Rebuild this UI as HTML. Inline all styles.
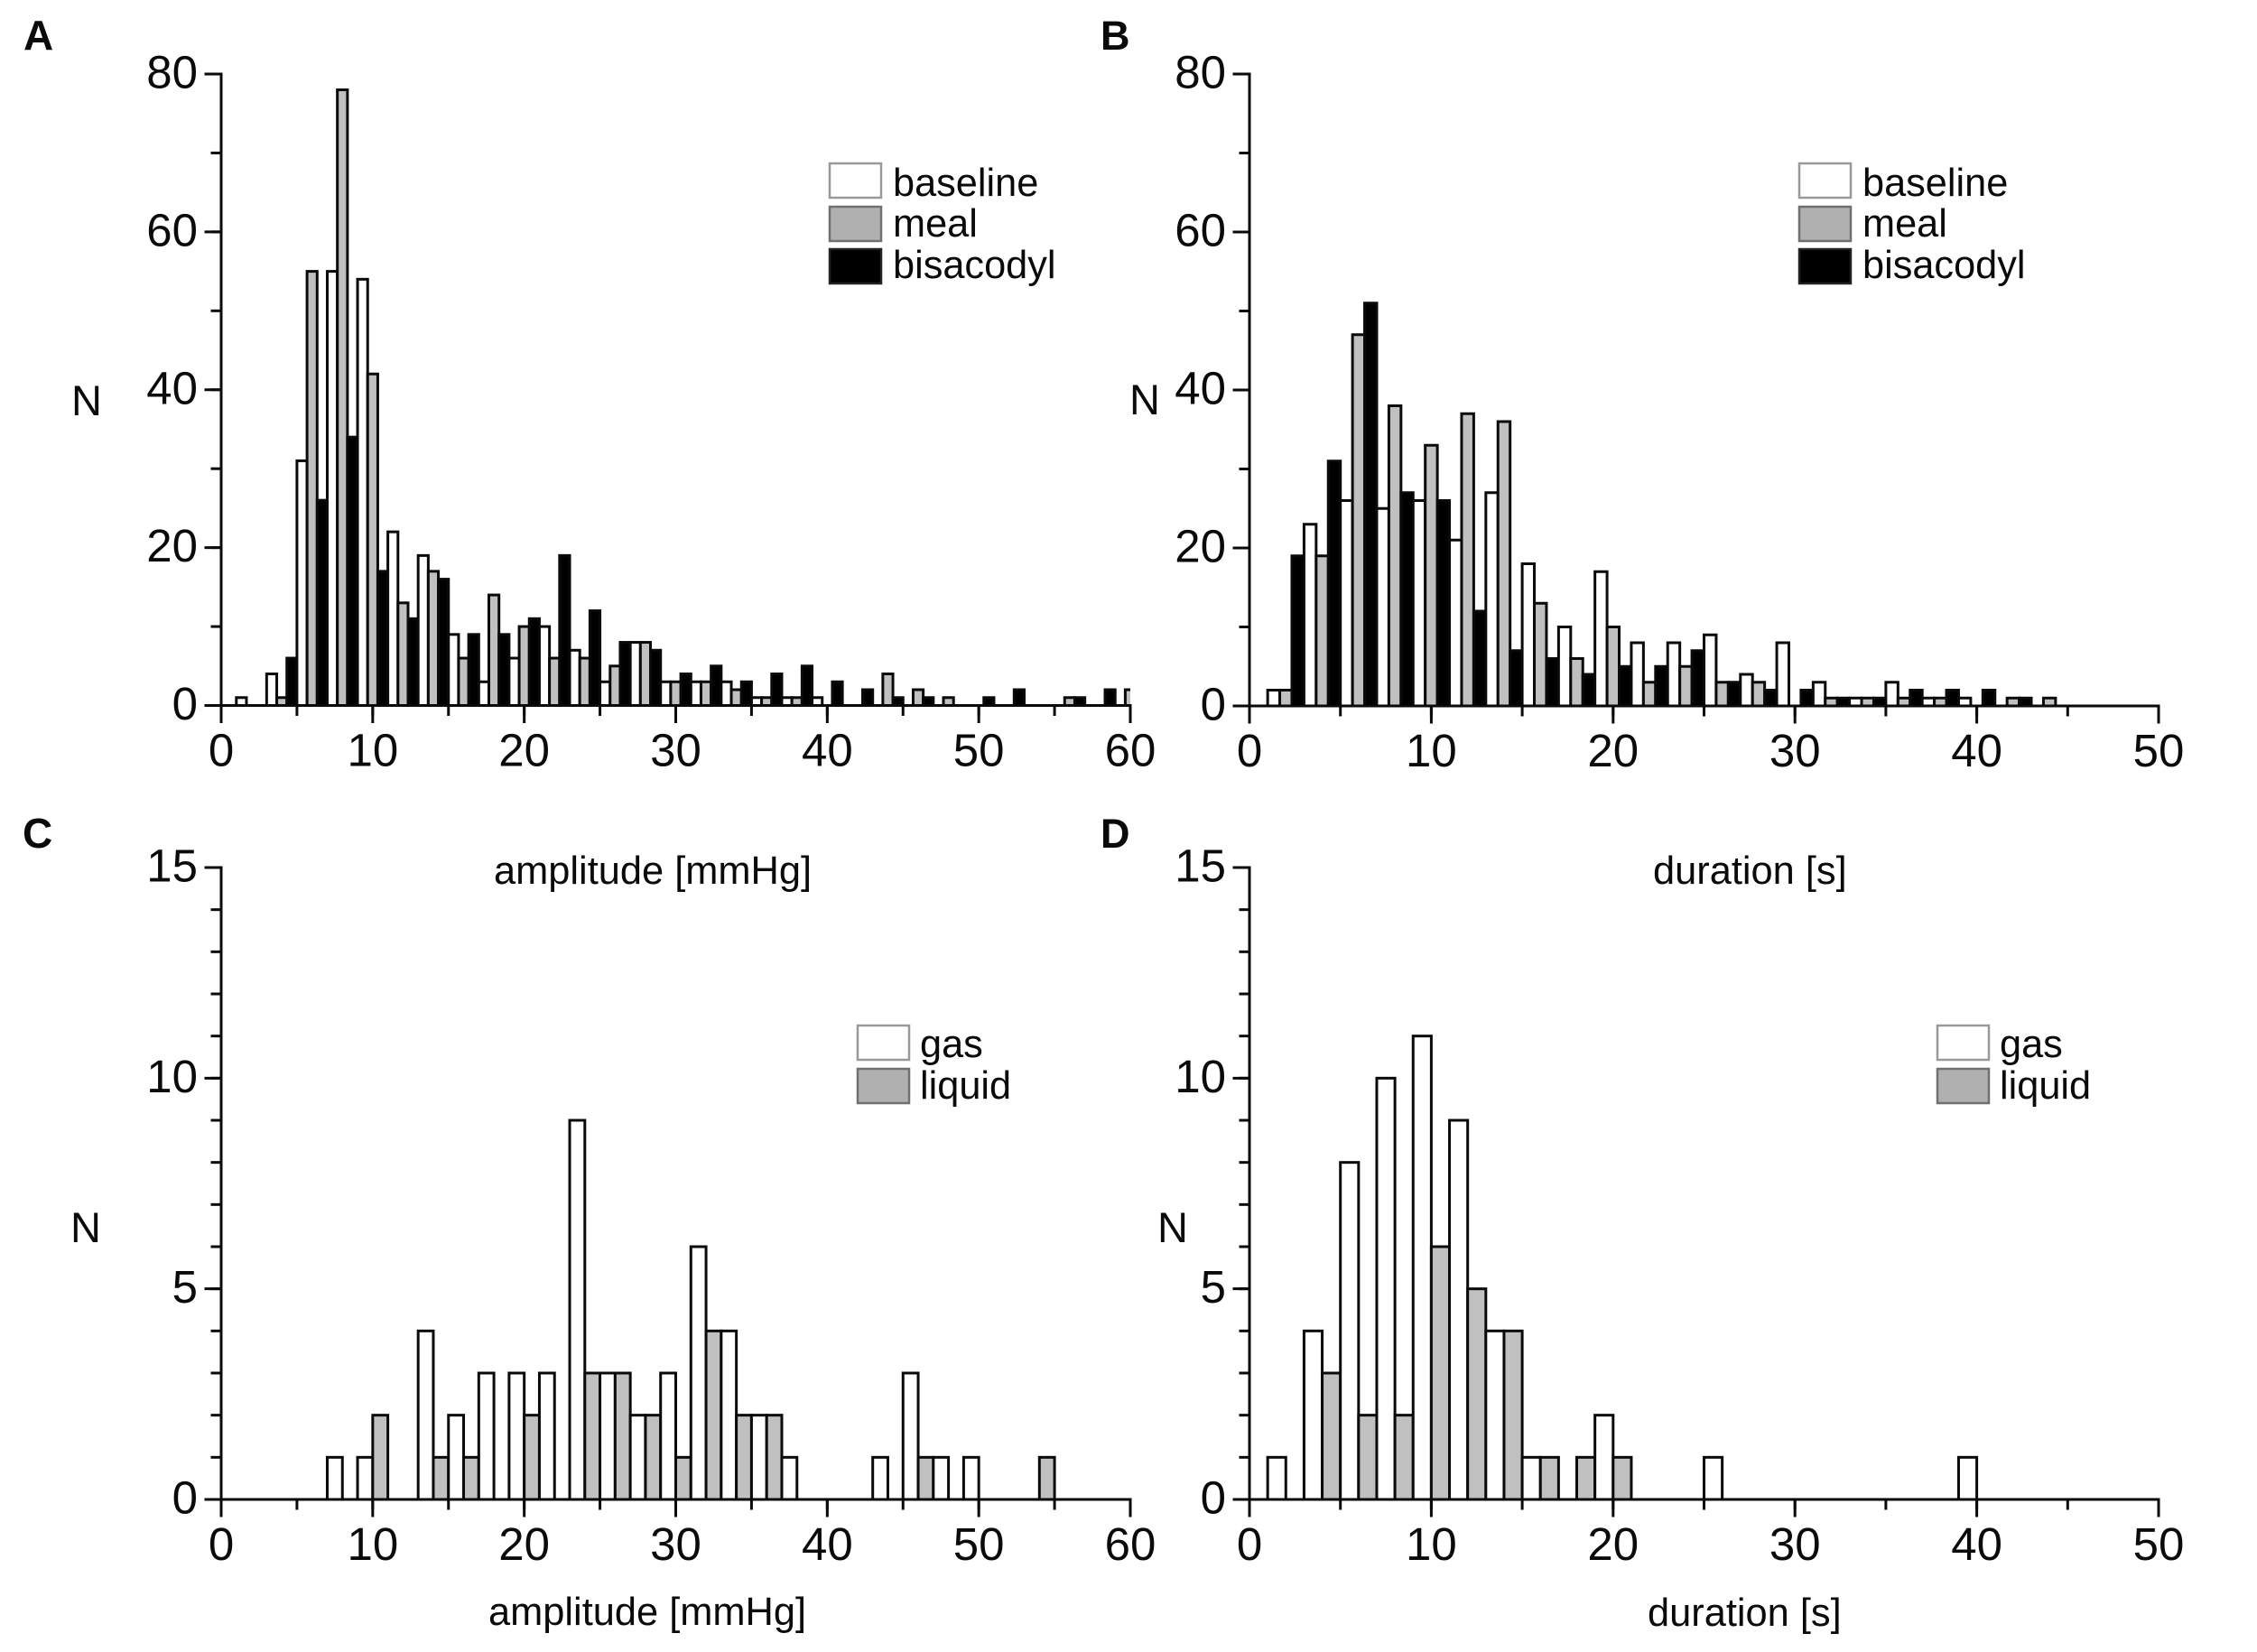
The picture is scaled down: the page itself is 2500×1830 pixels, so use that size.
<!DOCTYPE html>
<html lang="en">
<head>
<meta charset="utf-8">
<title>Histograms of amplitude and duration</title>
<style>
html,body{margin:0;padding:0;background:#fff;}
svg{display:block;}
text{font-family:"Liberation Sans",Arial,sans-serif;fill:#0a0a0a;}
</style>
</head>
<body>
<svg id="chart" xmlns="http://www.w3.org/2000/svg" width="2500" height="1830" viewBox="0 0 2500 1830">
<rect x="0" y="0" width="2500" height="1830" fill="#fff"/>
<defs>
<clipPath id="clip-a"><rect x="230" y="60" width="1022" height="725"/></clipPath>
</defs>
<text x="26" y="55" font-size="46" font-weight="bold">A</text>
<text x="1219" y="55" font-size="45" font-weight="bold">B</text>
<text x="25" y="939" font-size="46" font-weight="bold">C</text>
<text x="1219" y="939" font-size="45" font-weight="bold">D</text>

<text x="79" y="460" font-size="47">N</text>
<text x="1251" y="459" font-size="47">N</text>
<text x="78" y="1376" font-size="47">N</text>
<text x="1282" y="1376" font-size="47">N</text>

<text x="547" y="979" font-size="43.4">amplitude [mmHg]</text>
<text x="1831" y="979" font-size="43.4">duration [s]</text>
<text x="541" y="1800" font-size="43.4">amplitude [mmHg]</text>
<text x="1825" y="1801" font-size="43.4">duration [s]</text>

<g>
<rect x="919" y="181" width="57" height="38" fill="#fff" stroke="#999" stroke-width="2.5"/>
<rect x="919" y="229" width="57" height="38" fill="#b0b0b0" stroke="#707070" stroke-width="2.5"/>
<rect x="919" y="276" width="57" height="38" fill="#000" stroke="#222" stroke-width="2.5"/>
<text x="989" y="217" font-size="43.3">baseline</text>
<text x="989" y="262" font-size="43.3">meal</text>
<text x="989" y="308" font-size="43.3">bisacodyl</text>
</g>
<g>
<rect x="1993" y="181" width="57" height="38" fill="#fff" stroke="#999" stroke-width="2.5"/>
<rect x="1993" y="229" width="57" height="38" fill="#b0b0b0" stroke="#707070" stroke-width="2.5"/>
<rect x="1993" y="276" width="57" height="38" fill="#000" stroke="#222" stroke-width="2.5"/>
<text x="2063" y="217" font-size="43.3">baseline</text>
<text x="2063" y="262" font-size="43.3">meal</text>
<text x="2063" y="308" font-size="43.3">bisacodyl</text>
</g>
<g>
<rect x="950" y="1136" width="57" height="38" fill="#fff" stroke="#999" stroke-width="2.5"/>
<rect x="950" y="1184" width="57" height="38" fill="#b0b0b0" stroke="#707070" stroke-width="2.5"/>
<text x="1019" y="1171" font-size="43.3">gas</text>
<text x="1019" y="1217" font-size="43.3">liquid</text>
</g>
<g>
<rect x="2146" y="1136" width="57" height="38" fill="#fff" stroke="#999" stroke-width="2.5"/>
<rect x="2146" y="1184" width="57" height="38" fill="#b0b0b0" stroke="#707070" stroke-width="2.5"/>
<text x="2215" y="1171" font-size="43.3">gas</text>
<text x="2215" y="1217" font-size="43.3">liquid</text>
</g>
</svg>
<script>
// Panel A: amplitude, bins start at these values
const binsA = [1,3,5,7,9,11,13,15,17,19,21,23,25,27,29,31,33,35,37,39,41,43,45,47,49,51,53,55,57,59];
const baselineA = [1,4,31,55,54,22,19,9,3,6,10,7,3,8,3,3,3,1,1,1,0,0,0,0,0,0,0,0,0,0];
const mealA = [0,1,55,78,42,13,17,6,14,10,6,6,5,8,3,3,2,1,1,0,0,4,2,1,0,0,0,1,0,2];
const bisacodylA = [0,6,26,34,17,11,16,9,9,11,19,12,8,7,4,5,3,4,5,3,2,1,1,0,1,2,0,1,2,0];

// Panel B: duration
const binsB = [1,3,5,7,9,11,13,15,17,19,21,23,25,27,29,31,33,35,37,39,41,43];
const baselineB = [2,23,26,25,26,21,27,18,10,17,8,8,9,4,8,3,1,3,1,1,0,0];
const mealB = [2,19,47,38,33,37,36,13,6,10,3,5,3,3,0,1,1,1,1,0,1,1];
const bisacodylB = [19,31,51,27,26,12,7,6,4,5,5,7,3,2,2,1,1,2,2,2,1,0];

// Panel C: amplitude, gas vs liquid
const binsC = [1,3,5,7,9,11,13,15,17,19,21,23,25,27,29,31,33,35,37,39,41,43,45,47,49,51,53];
const gasC = [0,0,0,1,1,0,4,2,3,3,3,9,3,2,3,6,4,2,1,0,0,1,3,1,1,0,0];
const liquidC = [0,0,0,0,2,0,1,1,0,2,0,3,3,2,1,4,2,2,0,0,0,0,1,0,0,0,1];

// Panel D: duration, gas vs liquid
const binsD = [1,3,5,7,9,11,13,15,17,19,21,23,25,27,29,31,33,35,37,39];
const gasD = [1,4,8,10,11,9,4,1,0,2,0,0,1,0,0,0,0,0,0,1];
const liquidD = [0,3,2,2,6,5,4,1,1,1,0,0,0,0,0,0,0,0,0,0];

// Tick labels
const xTicksAmplitude = [0,10,20,30,40,50,60];
const xTicksDuration = [0,10,20,30,40,50];
const yTicksTop = [0,20,40,60,80];
const yTicksBottom = [0,5,10,15];

const SVG_NS = 'http://www.w3.org/2000/svg';
const chart = document.getElementById('chart');

function line(parent, x1, y1, x2, y2, w) {
  const l = document.createElementNS(SVG_NS, 'line');
  l.setAttribute('x1', x1);
  l.setAttribute('y1', y1);
  l.setAttribute('x2', x2);
  l.setAttribute('y2', y2);
  l.setAttribute('stroke', '#0a0a0a');
  l.setAttribute('stroke-width', w);
  l.setAttribute('stroke-linecap', 'square');
  parent.appendChild(l);
  return l;
}

function label(parent, x, y, str, anchor) {
  const t = document.createElementNS(SVG_NS, 'text');
  t.setAttribute('x', x);
  t.setAttribute('y', y);
  t.setAttribute('font-size', '51');
  t.setAttribute('text-anchor', anchor);
  t.textContent = str;
  parent.appendChild(t);
  return t;
}

function drawPanel(p) {
  const sx = v => p.left + (v / p.xMax) * (p.right - p.left);
  const sy = v => p.bottom - (v / p.yMax) * (p.bottom - p.top);

  const g = document.createElementNS(SVG_NS, 'g');
  
  
  chart.appendChild(g);

  const bars = document.createElementNS(SVG_NS, 'g');
  
  
  if (p.clip) bars.setAttribute('clip-path', 'url(#' + p.clip + ')');
  g.appendChild(bars);

  const barW = p.binWidth / p.series.length;
  p.bins.forEach((start, i) => {
    p.series.forEach((s, k) => {
      const v = s.values[i];
      const u0 = start + k * barW;
      const x0 = sx(u0);
      const x1 = sx(u0 + barW);
      const r = document.createElementNS(SVG_NS, 'rect');
      
      
      r.setAttribute('x', x0);
      r.setAttribute('y', sy(v));
      r.setAttribute('width', x1 - x0);
      r.setAttribute('height', sy(0) - sy(v));
      r.setAttribute('fill', s.fill);
      r.setAttribute('stroke', '#0a0a0a');
      r.setAttribute('stroke-width', '3');
      bars.appendChild(r);
    });
  });

  const yAxis = document.createElementNS(SVG_NS, 'g');
  
  
  g.appendChild(yAxis);
  line(yAxis, p.left, sy(p.yMax), p.left, sy(0), 3);
  for (let v = 0; v <= p.yMax; v += p.yMinor) {
    line(yAxis, p.left - 10, sy(v), p.left, sy(v), 3);
  }
  p.yTicks.forEach(v => {
    line(yAxis, p.left - 17, sy(v), p.left, sy(v), 3);
    const t = label(yAxis, p.left - 26, sy(v) + 15.5, v, 'end');
    
    
  });

  const xAxis = document.createElementNS(SVG_NS, 'g');
  
  
  g.appendChild(xAxis);
  line(xAxis, p.left, sy(0), p.right, sy(0), 3);
  for (let v = 0; v <= p.xMax; v += 5) {
    line(xAxis, sx(v), sy(0), sx(v), sy(0) + 10, 3);
  }
  p.xTicks.forEach(v => {
    line(xAxis, sx(v), sy(0), sx(v), sy(0) + 18, 3);
    const t = label(xAxis, sx(v), sy(0) + 67, v, 'middle');
    
    
  });
}

const WHITE = '#ffffff', GRAY = '#c0c0c0', BLACK = '#000000';

drawPanel({
  id: 'a', left: 245, right: 1252, top: 82, bottom: 781.5, xMax: 60, yMax: 80, yMinor: 10,
  binWidth: 2, clip: 'clip-a', bins: binsA, xTicks: xTicksAmplitude, yTicks: yTicksTop,
  series: [
    { name: 'baseline', fill: WHITE, values: baselineA },
    { name: 'meal', fill: GRAY, values: mealA },
    { name: 'bisacodyl', fill: BLACK, values: bisacodylA }
  ]
});
drawPanel({
  id: 'b', left: 1384, right: 2391, top: 82, bottom: 782, xMax: 50, yMax: 80, yMinor: 10,
  binWidth: 2, bins: binsB, xTicks: xTicksDuration, yTicks: yTicksTop,
  series: [
    { name: 'baseline', fill: WHITE, values: baselineB },
    { name: 'meal', fill: GRAY, values: mealB },
    { name: 'bisacodyl', fill: BLACK, values: bisacodylB }
  ]
});
drawPanel({
  id: 'c', left: 245, right: 1252, top: 961, bottom: 1661, xMax: 60, yMax: 15, yMinor: 1,
  binWidth: 2, bins: binsC, xTicks: xTicksAmplitude, yTicks: yTicksBottom,
  series: [
    { name: 'gas', fill: WHITE, values: gasC },
    { name: 'liquid', fill: GRAY, values: liquidC }
  ]
});
drawPanel({
  id: 'd', left: 1384, right: 2391, top: 961, bottom: 1661, xMax: 50, yMax: 15, yMinor: 1,
  binWidth: 2, bins: binsD, xTicks: xTicksDuration, yTicks: yTicksBottom,
  series: [
    { name: 'gas', fill: WHITE, values: gasD },
    { name: 'liquid', fill: GRAY, values: liquidD }
  ]
});
</script>
</body>
</html>
